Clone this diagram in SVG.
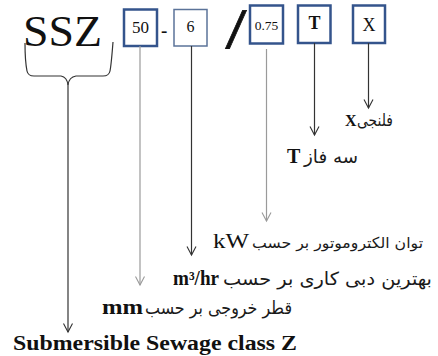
<svg xmlns="http://www.w3.org/2000/svg" width="438" height="356" viewBox="0 0 438 356">
<style>
.box{fill:#fff;stroke:#34548c;stroke-width:2.5}
.box2{fill:#fff;stroke:#5b7399;stroke-width:1.5}
.dk{stroke:#333;stroke-width:1.2;fill:none}
.gr{stroke:#9a9a9a;stroke-width:1.2;fill:none}
.ser{font-family:'Liberation Serif','Times New Roman',serif}
.ar{font-family:'DejaVu Sans',sans-serif;fill:#1a1a1a}
text{fill:#111}
</style>
<defs>
<marker id="aD" viewBox="-10 -6 12 12" refX="0" refY="0" markerWidth="12" markerHeight="12" markerUnits="userSpaceOnUse" orient="auto">
<path d="M-8.5,-4.5 L0,0 L-8.5,4.5" fill="none" stroke="#333" stroke-width="1.1"/>
</marker>
<marker id="aG" viewBox="-10 -6 12 12" refX="0" refY="0" markerWidth="12" markerHeight="12" markerUnits="userSpaceOnUse" orient="auto">
<path d="M-8.5,-4.5 L0,0 L-8.5,4.5" fill="none" stroke="#9a9a9a" stroke-width="1.1"/>
</marker>
</defs>

<g id="title">
<text class="ser" x="23" y="46" font-size="45" textLength="79" lengthAdjust="spacingAndGlyphs">SSZ</text>
</g>

<g id="box-50">
<rect class="box" x="124" y="9.5" width="33" height="36.5"/>
<text class="ser" x="140.5" y="33" font-size="17" text-anchor="middle">50</text>
</g>
<g id="dash">
<text class="ser" x="161" y="37" font-size="19" font-weight="bold">-</text>
</g>
<g id="box-6">
<rect class="box2" x="174" y="9.5" width="33" height="36.5"/>
<text class="ser" x="190.5" y="32" font-size="16" text-anchor="middle">6</text>
</g>
<g id="slash">
<text x="226" y="48" font-family="'Liberation Sans', sans-serif" font-size="52" transform="skewX(-10) translate(8,0)" stroke="#111" stroke-width="0.8">/</text>
</g>
<g id="box-075">
<rect class="box" x="250" y="5.5" width="33" height="38"/>
<text class="ser" x="266.5" y="30" font-size="13.5" text-anchor="middle">0.75</text>
</g>
<g id="box-T">
<rect class="box" x="298" y="5.5" width="32.5" height="37.5"/>
<text class="ser" x="314.5" y="29" font-size="18" font-weight="bold" text-anchor="middle">T</text>
</g>
<g id="box-X">
<rect class="box" x="353" y="5.5" width="32" height="37.5"/>
<text class="ser" x="369" y="31" font-size="18" text-anchor="middle">X</text>
</g>

<g id="connectors">
<path class="dk" d="M25,43 C25,56 26,66 27,71 Q28,76 34,76 L61,76 Q67,77 68,85" stroke="#666"/>
<path class="dk" d="M113,42 C112,55 111,66 110,71 Q109,76 103,76 L76,76 Q69,77 68,85" stroke="#666"/>
<line class="dk" x1="68" y1="85" x2="68" y2="332" marker-end="url(#aD)"/>
<line class="gr" x1="140" y1="46" x2="140" y2="285" marker-end="url(#aG)"/>
<line class="dk" x1="191.5" y1="46" x2="191.5" y2="255" marker-end="url(#aD)" stroke="#111"/>
<line class="gr" x1="266.5" y1="49" x2="266.5" y2="221" marker-end="url(#aG)" stroke="#aaa"/>
<line class="dk" x1="314.5" y1="43" x2="314.5" y2="135" marker-end="url(#aD)"/>
<line class="dk" x1="368.5" y1="43" x2="368.5" y2="108" marker-end="url(#aD)"/>
</g>

<g id="label-X">
<text class="ser" x="345" y="126" font-size="16" font-weight="bold">X</text>
<text class="ar" x="357" y="126" font-size="17" textLength="36" lengthAdjust="spacingAndGlyphs">فلنجی</text>
</g>
<g id="label-T">
<text class="ser" x="287" y="163" font-size="20" font-weight="bold">T</text>
<text class="ar" x="304" y="163" font-size="18" textLength="54" lengthAdjust="spacingAndGlyphs">سه فاز</text>
</g>
<g id="label-kW">
<text class="ser" x="213" y="248" font-size="20" textLength="36" lengthAdjust="spacingAndGlyphs">kW</text>
<text class="ar" x="252" y="248" font-size="15" textLength="171" lengthAdjust="spacingAndGlyphs">توان الکتروموتور بر حسب</text>
</g>
<g id="label-flow">
<text class="ser" x="173" y="285" font-size="20" font-weight="bold" textLength="46" lengthAdjust="spacingAndGlyphs">m³/hr</text>
<text class="ar" x="223" y="285" font-size="18" textLength="209" lengthAdjust="spacingAndGlyphs">بهترین دبی کاری بر حسب</text>
</g>
<g id="label-mm">
<text class="ser" x="102" y="314" font-size="20" font-weight="bold" textLength="41" lengthAdjust="spacingAndGlyphs">mm</text>
<text class="ar" x="145" y="314" font-size="18" textLength="147" lengthAdjust="spacingAndGlyphs">قطر خروجی بر حسب</text>
</g>
<g id="label-ssz">
<text class="ser" x="13" y="350" font-size="20" font-weight="bold" textLength="284" lengthAdjust="spacingAndGlyphs">Submersible  Sewage class Z</text>
</g>
</svg>
